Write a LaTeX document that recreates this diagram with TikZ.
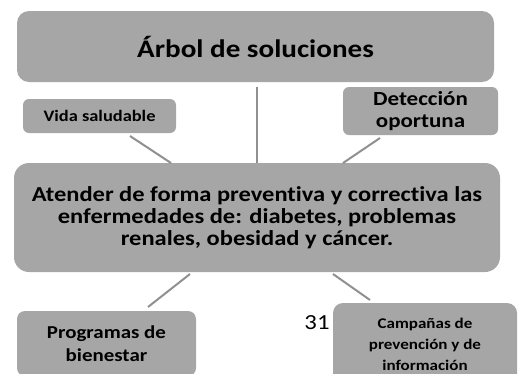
\documentclass[tikz,border=0pt]{standalone}
\usepackage{fontspec}
\setmainfont[FakeStretch=1.15,Ligatures=CommonOff]{Carlito}
\definecolor{boxgray}{HTML}{A6A6A6}
\definecolor{linegray}{HTML}{909090}
\begin{document}
\begin{tikzpicture}[x=1pt,y=-1pt,
  box/.style={fill=boxgray,draw=none,inner sep=0pt,align=center,font=\bfseries},
  conn/.style={draw=linegray,line width=2pt}]
\useasboundingbox (0,0) rectangle (521,373);
\clip (0,0) rectangle (521,373);
\node[box,rounded corners=12pt,minimum width=477pt,minimum height=71pt,font=\bfseries\fontsize{25.3}{28}\selectfont] (top) at (255.5,46.5) {Árbol de soluciones};
\node[box,rounded corners=6pt,minimum width=153pt,minimum height=34pt,font=\bfseries\fontsize{16}{20}\selectfont] (vida) at (99.5,116) {Vida saludable};
\node[box,rounded corners=6pt,minimum width=155pt,minimum height=48pt,font=\bfseries\fontsize{20}{22}\selectfont] (det) at (420.5,111) {Detección\\oportuna};
\node[box,rounded corners=15pt,minimum width=486pt,minimum height=109pt,font=\bfseries\fontsize{21.3}{22}\selectfont] (main) at (257,217.5) {Atender de forma preventiva y correctiva las\\enfermedades de: diabetes, problemas\\renales, obesidad y cáncer.};
\node[box,rounded corners=8pt,minimum width=179pt,minimum height=65pt,font=\bfseries\fontsize{18.2}{23}\selectfont] (prog) at (106.5,343.5) {Programas de\\bienestar};
\node[box,rounded corners=10pt,minimum width=184pt,minimum height=82pt,font=\bfseries\fontsize{14.8}{21}\selectfont] (camp) at (425,344) {Campañas de\\prevención y de\\información};
\node[inner sep=0pt,font=\fontsize{21.5}{24}\selectfont] (num) at (317,323) {31};
\coordinate (v1) at (130,136); \coordinate (v2) at (171,163);
\coordinate (c1) at (257,87); \coordinate (c2) at (257,163);
\coordinate (d1) at (380,138); \coordinate (d2) at (343,163);
\coordinate (p1) at (190,274); \coordinate (p2) at (148,307);
\coordinate (q1) at (333,274); \coordinate (q2) at (370,300);
\draw[conn] (v1) -- (v2);
\draw[conn] (c1) -- (c2);
\draw[conn] (d1) -- (d2);
\draw[conn] (p1) -- (p2);
\draw[conn] (q1) -- (q2);
\end{tikzpicture}
\end{document}
